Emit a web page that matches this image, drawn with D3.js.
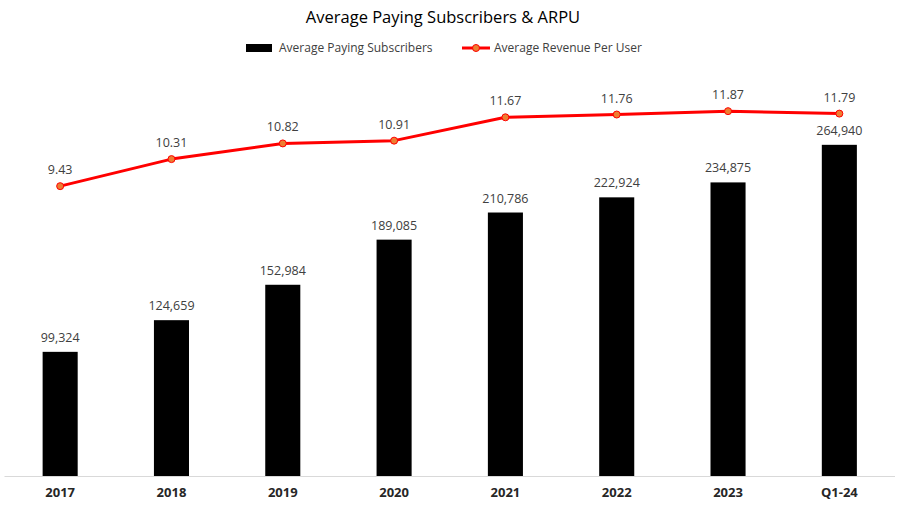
<!DOCTYPE html>
<html>
<head>
<meta charset="utf-8">
<script src="https://cdn.jsdelivr.net/npm/d3@7"></script>
<style>
  body { margin: 0; background: #fff; }
  text { font-family: "Open Sans", "Noto Sans", sans-serif; fill: #404040; }
</style>
</head>
<body>
<svg width="902" height="513"></svg>
<script>
const width = 902;
const height = 513;

const categories = ['2017', '2018', '2019', '2020', '2021', '2022', '2023', 'Q1-24'];
const subscribers = [99324, 124659, 152984, 189085, 210786, 222924, 234875, 264940];
const arpu = [9.43, 10.31, 10.82, 10.91, 11.67, 11.76, 11.87, 11.79];

const baseY = 476;
const topY = 101;

const svg = d3.select('svg')
    .attr('width', width)
    .attr('height', height);

const xScale = d3.scaleBand()
    .domain(categories)
    .range([4.5, 895])
    .paddingInner(0.685)
    .paddingOuter(0.3425);

const yBar = d3.scaleLinear()
    .domain([0, 300000])
    .range([baseY, topY]);

const yLine = d3.scaleLinear()
    .domain([0, 12.2])
    .range([baseY, topY]);

const fmt = d3.format(',');

// bars
svg.selectAll('rect.bar')
    .data(categories)
    .enter()
    .append('rect')
        .attr('class', 'bar')
        .attr('x', d => xScale(d))
        .attr('y', (d, i) => yBar(subscribers[i]))
        .attr('width', xScale.bandwidth())
        .attr('height', (d, i) => baseY - yBar(subscribers[i]))
        .attr('fill', '#000');

// axis line
svg.append('line')
    .attr('x1', 4.5)
    .attr('x2', 895)
    .attr('y1', baseY + 0.5)
    .attr('y2', baseY + 0.5)
    .attr('stroke', '#d9d9d9')
    .attr('stroke-width', 1);

// x labels
const xAxis = d3.axisBottom(xScale).tickSize(0).tickPadding(12);
const gx = svg.append('g')
    .attr('transform', `translate(0, ${baseY})`)
    .call(xAxis);
gx.select('.domain').remove();
gx.selectAll('text')
    .style('font-size', '13px')
    .style('font-weight', 'bold')
    .style('fill', '#262626');

// bar labels
svg.selectAll('text.bar-label')
    .data(categories)
    .enter()
    .append('text')
        .attr('class', 'bar-label')
        .attr('x', d => xScale(d) + xScale.bandwidth() / 2)
        .attr('y', (d, i) => yBar(subscribers[i]) - 10)
        .style('text-anchor', 'middle')
        .style('font-size', '12.5px')
        .text((d, i) => fmt(subscribers[i]));

// ARPU line
const cx = d => xScale(d) + xScale.bandwidth() / 2;
const line = d3.line()
    .x(d => cx(d))
    .y((d, i) => yLine(arpu[i]));

svg.append('path')
    .datum(categories)
    .attr('d', line)
    .attr('fill', 'none')
    .attr('stroke', '#ff0000')
    .attr('stroke-width', 3)
    .attr('stroke-linejoin', 'round');

svg.selectAll('circle.pt')
    .data(categories)
    .enter()
    .append('circle')
        .attr('class', 'pt')
        .attr('cx', d => cx(d))
        .attr('cy', (d, i) => yLine(arpu[i]))
        .attr('r', 3.5)
        .attr('fill', '#ed7d31')
        .attr('stroke', '#ff0000')
        .attr('stroke-width', 1);

svg.selectAll('text.line-label')
    .data(categories)
    .enter()
    .append('text')
        .attr('class', 'line-label')
        .attr('x', d => cx(d))
        .attr('y', (d, i) => yLine(arpu[i]) - 12)
        .style('text-anchor', 'middle')
        .style('font-size', '12.5px')
        .text((d, i) => arpu[i].toFixed(2));

// title
svg.append('text')
    .attr('x', 443)
    .attr('y', 23)
    .style('text-anchor', 'middle')
    .style('font-size', '16.5px')
    .style('fill', '#000')
    .text('Average Paying Subscribers & ARPU');

// legend
const legend = svg.append('g');
legend.append('rect')
    .attr('x', 246)
    .attr('y', 44)
    .attr('width', 26)
    .attr('height', 8)
    .attr('fill', '#000');
legend.append('text')
    .attr('x', 279)
    .attr('y', 52)
    .style('font-size', '12px')
    .text('Average Paying Subscribers');
legend.append('line')
    .attr('x1', 462)
    .attr('x2', 490)
    .attr('y1', 48)
    .attr('y2', 48)
    .attr('stroke', '#ff0000')
    .attr('stroke-width', 3);
legend.append('circle')
    .attr('cx', 476)
    .attr('cy', 48)
    .attr('r', 3.5)
    .attr('fill', '#ed7d31')
    .attr('stroke', '#ff0000');
legend.append('text')
    .attr('x', 494)
    .attr('y', 52)
    .style('font-size', '12px')
    .text('Average Revenue Per User');
</script>
</body>
</html>
